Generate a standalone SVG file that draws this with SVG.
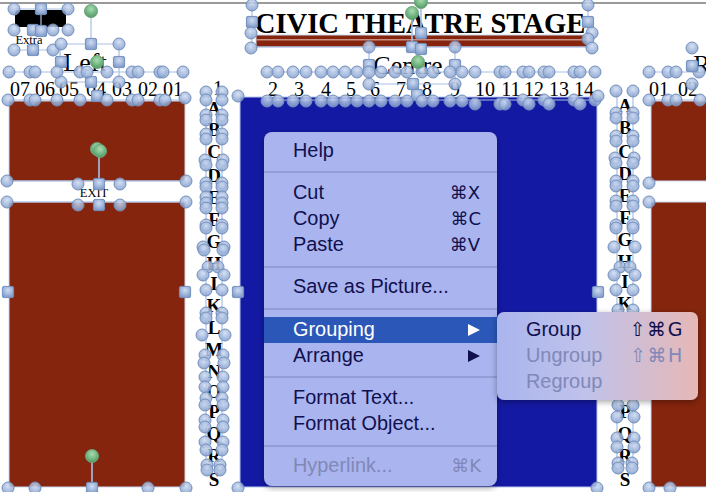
<svg xmlns="http://www.w3.org/2000/svg" width="706" height="492" viewBox="0 0 706 492">
<style>
.s{font-family:"Liberation Serif","Times New Roman",serif;fill:#000;text-anchor:middle}
.n{font-size:20px}
.l{font-size:19px;font-weight:bold}
.m{font-family:"Liberation Sans",Arial,"DejaVu Sans",sans-serif;font-size:19.9px;fill:#10104f}
.k{font-family:"DejaVu Sans","Liberation Sans",sans-serif;font-size:18px;fill:#10104f;text-anchor:end}
.z{font-size:19px;letter-spacing:1.6px}
.d{fill:#8088b8}
.w{fill:#fff}
.sep{fill:#939dd6}
.lnk{stroke:#a9c0e6;stroke-width:1.2;fill:none}
</style>
<defs>
<radialGradient id="cg" cx="50%" cy="35%" r="65%"><stop offset="0" stop-color="#cfdcf2"/><stop offset="1" stop-color="#7f9bcb"/></radialGradient>
<radialGradient id="gg" cx="50%" cy="35%" r="65%"><stop offset="0" stop-color="#a8dcb0"/><stop offset="1" stop-color="#4f9a63"/></radialGradient>
<linearGradient id="sub" x1="0" x2="1" y1="0" y2="0"><stop offset="0" stop-color="#aab5ee"/><stop offset=".45" stop-color="#c0c2ea"/><stop offset="1" stop-color="#e6b8b6"/></linearGradient>
<filter id="sh" x="-10%" y="-10%" width="120%" height="125%"><feDropShadow dx="0" dy="2" stdDeviation="3" flood-color="#000" flood-opacity=".35"/></filter>
<circle id="c" r="6" fill="url(#cg)" stroke="#7490bd" stroke-width="1" fill-opacity=".85"/>
<rect id="q" x="-5.6" y="-5.6" width="11.2" height="11.2" rx="1.6" fill="url(#cg)" stroke="#7490bd" stroke-width="1"/>
<circle id="g" r="6.6" fill="url(#gg)" stroke="#6f9f7c" stroke-width=".8"/>
</defs>

<rect width="706" height="492" fill="#fff"/>
<rect x="0" y="2" width="706" height="2" fill="#9a9a9a"/>

<g id="shapes">
<rect x="9" y="101" width="176" height="80" fill="#85250d" stroke="#c9d6ee"/>
<rect x="9" y="202" width="176" height="285" fill="#85250d" stroke="#c9d6ee"/>
<rect x="240" y="97" width="357" height="390" fill="#1419a4" stroke="#b9c8ee"/>
<rect x="651" y="101" width="56" height="80" fill="#85250d" stroke="#c9d6ee"/>
<rect x="651" y="202" width="56" height="285" fill="#85250d" stroke="#c9d6ee"/>
<rect x="256" y="35" width="331" height="12" fill="#85250d" stroke="#c9d6ee"/>
<rect x="256" y="39" width="331" height="1.5" fill="#c98f82"/>
<rect x="15" y="10" width="51" height="17" rx="4" fill="#000"/>
</g>

<g id="labels">
<text x="420" y="33" class="s" font-size="28.6" font-weight="bold">CIVIC THEATRE STAGE</text>
<text x="29" y="44" class="s" font-size="12.5">Extra</text>
<text x="94" y="197" class="s" font-size="12.5">EXIT</text>
<text x="85" y="71" class="s" font-size="26">Left</text>
<text x="408" y="74" class="s" font-size="26">Centre</text>
<text x="702" y="73" class="s" font-size="26">R</text>
<g class="s n">
<text x="20" y="96">07</text><text x="45" y="96">06</text><text x="69" y="96">05</text><text x="96" y="96">04</text><text x="122" y="96">03</text><text x="148" y="96">02</text><text x="173" y="96">01</text>
<text x="218" y="95">1</text>
<text x="273" y="96">2</text><text x="299" y="96">3</text><text x="326" y="96">4</text><text x="351" y="96">5</text><text x="375" y="96">6</text><text x="401" y="96">7</text><text x="427" y="96">8</text><text x="455" y="96">9</text><text x="485" y="96">10</text><text x="511" y="96">11</text><text x="534" y="96">12</text><text x="559" y="96">13</text><text x="584" y="96">14</text>
<text x="659" y="96">01</text><text x="688" y="96">02</text>
</g>
<g class="s l">
<text x="214" y="115">A</text><text x="214" y="136">B</text><text x="214" y="158">C</text><text x="214" y="182">D</text><text x="214" y="204">E</text><text x="214" y="226">F</text><text x="214" y="248">G</text><text x="214" y="270">H</text><text x="214" y="290">I</text><text x="214" y="312">K</text><text x="214" y="334">L</text><text x="214" y="356">M</text><text x="214" y="378">N</text><text x="214" y="398">O</text><text x="214" y="418">P</text><text x="214" y="440">Q</text><text x="214" y="462">R</text><text x="214" y="486">S</text>
<text x="625" y="112">A</text><text x="625" y="134">B</text><text x="625" y="158">C</text><text x="625" y="180">D</text><text x="625" y="202">E</text><text x="625" y="224">F</text><text x="625" y="246">G</text><text x="625" y="268">H</text><text x="625" y="288">I</text><text x="625" y="310">K</text><text x="625" y="418">P</text><text x="625" y="440">Q</text><text x="625" y="462">R</text><text x="625" y="486">S</text>
</g>
</g>

<g id="selection-lines" class="lnk">
<path d="M91 17V44M41 9V30M9 72H183M9 100H185M206 92V470M222 92V470M617 92V470M633 92V470M267 72H595M267 100H595M648 72H706M648 100H706"/>
<path d="M252 5V47M588 5V48M252 47H588M369 47V84M455 47V84M369 47H455M369 84H455M60 44H118M60 44V82M119 44V82M60 82H119M7 181H186M7 202H186M14 9H68M14 50H53"/>
<path d="M99 157V180M92 462V486M421 8V33M412 19V47" stroke-width="1.6"/>
</g>

<g id="handles">
<use href="#c" x="14" y="9"/><use href="#q" x="41" y="9"/><use href="#c" x="68" y="9"/><use href="#c" x="14" y="30"/><use href="#q" x="33" y="30"/><use href="#q" x="41" y="31"/><use href="#c" x="53" y="30"/><use href="#c" x="68" y="30"/><use href="#c" x="14" y="50"/><use href="#q" x="33" y="50"/><use href="#c" x="53" y="50"/>
<use href="#c" x="61" y="44"/><use href="#q" x="91" y="44"/><use href="#c" x="119" y="44"/><use href="#q" x="61" y="62"/><use href="#q" x="119" y="62"/><use href="#c" x="61" y="82"/><use href="#q" x="91" y="82"/><use href="#c" x="119" y="82"/>
<use href="#c" x="9" y="72"/><use href="#c" x="30" y="72"/><use href="#c" x="35" y="72"/><use href="#c" x="57" y="72"/><use href="#c" x="80" y="72"/><use href="#c" x="87" y="72"/><use href="#c" x="107" y="72"/><use href="#c" x="132" y="72"/><use href="#c" x="138" y="72"/><use href="#c" x="160" y="72"/><use href="#c" x="163" y="72"/><use href="#c" x="183" y="72"/>
<use href="#c" x="8" y="100"/><use href="#c" x="30" y="100"/><use href="#c" x="35" y="100"/><use href="#c" x="57" y="100"/><use href="#c" x="80" y="100"/><use href="#q" x="97" y="96"/><use href="#c" x="107" y="100"/><use href="#c" x="132" y="100"/><use href="#c" x="138" y="100"/><use href="#c" x="160" y="100"/><use href="#c" x="165" y="100"/><use href="#c" x="185" y="98"/>
<use href="#c" x="7" y="181"/><use href="#c" x="186" y="181"/><use href="#c" x="7" y="202"/><use href="#c" x="186" y="202"/><use href="#c" x="78" y="184"/><use href="#q" x="99" y="184"/><use href="#c" x="120" y="184"/><use href="#c" x="78" y="205"/><use href="#q" x="99" y="205"/><use href="#c" x="120" y="205"/>
<use href="#q" x="8" y="292"/><use href="#q" x="185" y="292"/><use href="#c" x="8" y="488"/><use href="#c" x="35" y="488"/><use href="#q" x="92" y="488"/><use href="#c" x="148" y="488"/><use href="#c" x="186" y="488"/>
<use href="#c" x="252" y="5"/><use href="#q" x="252" y="22"/><use href="#c" x="251" y="33"/><use href="#c" x="251" y="48"/><use href="#c" x="588" y="5"/><use href="#q" x="588" y="22"/><use href="#c" x="592" y="33"/><use href="#c" x="588" y="39"/><use href="#c" x="592" y="48"/><use href="#q" x="421" y="33"/><use href="#q" x="412" y="47"/><use href="#q" x="421" y="49"/>
<use href="#c" x="369" y="47"/><use href="#q" x="369" y="65"/><use href="#c" x="369" y="84"/><use href="#c" x="455" y="47"/><use href="#q" x="455" y="65"/><use href="#c" x="455" y="84"/><use href="#q" x="413" y="84"/><use href="#q" x="417" y="95"/>
<use href="#c" x="267" y="72"/><use href="#c" x="278" y="72"/><use href="#c" x="293" y="72"/><use href="#c" x="306" y="72"/><use href="#c" x="321" y="72"/><use href="#c" x="333" y="72"/><use href="#c" x="345" y="72"/><use href="#c" x="357" y="72"/><use href="#c" x="369" y="72"/><use href="#c" x="381" y="72"/><use href="#c" x="395" y="72"/><use href="#c" x="407" y="72"/><use href="#c" x="422" y="72"/><use href="#c" x="433" y="72"/><use href="#c" x="450" y="72"/><use href="#c" x="462" y="72"/><use href="#c" x="475" y="72"/><use href="#c" x="500" y="72"/><use href="#c" x="505" y="72"/><use href="#c" x="523" y="72"/><use href="#c" x="529" y="72"/><use href="#c" x="544" y="72"/><use href="#c" x="549" y="72"/><use href="#c" x="574" y="72"/><use href="#c" x="580" y="72"/><use href="#c" x="595" y="72"/>
<use href="#c" x="267" y="101"/><use href="#c" x="278" y="101"/><use href="#c" x="293" y="101"/><use href="#c" x="306" y="101"/><use href="#c" x="321" y="101"/><use href="#c" x="333" y="101"/><use href="#c" x="345" y="101"/><use href="#c" x="357" y="101"/><use href="#c" x="369" y="101"/><use href="#c" x="381" y="101"/><use href="#c" x="395" y="101"/><use href="#c" x="407" y="101"/><use href="#c" x="422" y="101"/><use href="#c" x="433" y="101"/><use href="#c" x="450" y="101"/><use href="#c" x="462" y="101"/><use href="#c" x="475" y="104"/><use href="#c" x="500" y="104"/><use href="#c" x="505" y="104"/><use href="#c" x="523" y="100"/><use href="#c" x="529" y="104"/><use href="#c" x="544" y="100"/><use href="#c" x="549" y="104"/><use href="#c" x="574" y="100"/><use href="#c" x="580" y="104"/><use href="#c" x="595" y="100"/><use href="#c" x="598" y="96"/>
<use href="#c" x="238" y="96"/><use href="#q" x="238" y="292"/><use href="#q" x="598" y="292"/><use href="#c" x="238" y="488"/><use href="#c" x="597" y="488"/>
<use href="#c" x="649" y="72"/><use href="#c" x="668" y="72"/><use href="#c" x="676" y="72"/><use href="#c" x="699" y="72"/><use href="#c" x="649" y="100"/><use href="#c" x="668" y="100"/><use href="#c" x="676" y="100"/><use href="#c" x="700" y="100"/><use href="#c" x="692" y="48"/><use href="#q" x="692" y="66"/><use href="#c" x="692" y="84"/><use href="#c" x="649" y="183"/><use href="#c" x="649" y="202"/><use href="#c" x="649" y="488"/><use href="#c" x="670" y="488"/>
<use href="#c" x="206" y="92"/><use href="#c" x="222" y="92"/><use href="#c" x="206" y="100"/><use href="#c" x="222" y="100"/><use href="#c" x="206" y="115"/><use href="#c" x="222" y="115"/><use href="#c" x="206" y="120"/><use href="#c" x="222" y="120"/><use href="#c" x="206" y="134"/><use href="#c" x="222" y="134"/><use href="#c" x="206" y="139"/><use href="#c" x="222" y="139"/><use href="#c" x="205" y="160"/><use href="#c" x="223" y="160"/><use href="#c" x="206" y="165"/><use href="#c" x="222" y="165"/><use href="#c" x="206" y="183"/><use href="#c" x="222" y="183"/><use href="#c" x="206" y="187"/><use href="#c" x="222" y="187"/><use href="#c" x="206" y="197"/><use href="#c" x="222" y="197"/><use href="#c" x="206" y="203"/><use href="#c" x="222" y="203"/><use href="#c" x="206" y="208"/><use href="#c" x="222" y="208"/><use href="#c" x="206" y="225"/><use href="#c" x="222" y="225"/><use href="#c" x="206" y="228"/><use href="#c" x="222" y="228"/><use href="#c" x="203" y="247"/><use href="#c" x="224" y="247"/><use href="#c" x="204" y="250"/><use href="#c" x="223" y="250"/><use href="#c" x="208" y="267"/><use href="#c" x="218" y="267"/><use href="#c" x="203" y="275"/><use href="#c" x="224" y="275"/><use href="#c" x="206" y="290"/><use href="#c" x="222" y="290"/><use href="#c" x="206" y="313"/><use href="#c" x="222" y="313"/><use href="#c" x="206" y="318"/><use href="#c" x="222" y="318"/><use href="#c" x="202" y="335"/><use href="#c" x="225" y="335"/><use href="#c" x="205" y="355"/><use href="#c" x="223" y="355"/><use href="#c" x="204" y="363"/><use href="#c" x="224" y="363"/><use href="#c" x="205" y="377"/><use href="#c" x="223" y="377"/><use href="#c" x="205" y="387"/><use href="#c" x="223" y="387"/><use href="#c" x="206" y="398"/><use href="#c" x="222" y="398"/><use href="#c" x="205" y="405"/><use href="#c" x="223" y="405"/><use href="#c" x="205" y="420"/><use href="#c" x="223" y="420"/><use href="#c" x="205" y="427"/><use href="#c" x="223" y="427"/><use href="#c" x="205" y="442"/><use href="#c" x="223" y="442"/><use href="#c" x="206" y="450"/><use href="#c" x="222" y="450"/><use href="#c" x="207" y="465"/><use href="#c" x="220" y="465"/><use href="#c" x="207" y="470"/><use href="#c" x="220" y="470"/>
<use href="#c" x="616" y="91"/><use href="#c" x="633" y="91"/><use href="#c" x="616" y="113"/><use href="#c" x="633" y="113"/><use href="#c" x="616" y="118"/><use href="#c" x="633" y="118"/><use href="#c" x="616" y="136"/><use href="#c" x="633" y="136"/><use href="#c" x="616" y="141"/><use href="#c" x="633" y="141"/><use href="#c" x="615" y="158"/><use href="#c" x="634" y="158"/><use href="#c" x="616" y="163"/><use href="#c" x="633" y="163"/><use href="#c" x="616" y="181"/><use href="#c" x="633" y="181"/><use href="#c" x="616" y="186"/><use href="#c" x="633" y="186"/><use href="#c" x="616" y="201"/><use href="#c" x="633" y="201"/><use href="#c" x="616" y="206"/><use href="#c" x="633" y="206"/><use href="#c" x="616" y="225"/><use href="#c" x="633" y="225"/><use href="#c" x="616" y="228"/><use href="#c" x="633" y="228"/><use href="#c" x="614" y="247"/><use href="#c" x="635" y="247"/><use href="#c" x="620" y="267"/><use href="#c" x="630" y="267"/><use href="#c" x="614" y="275"/><use href="#c" x="635" y="275"/><use href="#c" x="616" y="290"/><use href="#c" x="633" y="290"/><use href="#c" x="618" y="310"/><use href="#c" x="633" y="310"/><use href="#c" x="618" y="405"/><use href="#c" x="633" y="405"/><use href="#c" x="617" y="417"/><use href="#c" x="634" y="417"/><use href="#c" x="617" y="438"/><use href="#c" x="634" y="438"/><use href="#c" x="617" y="447"/><use href="#c" x="634" y="447"/><use href="#c" x="618" y="463"/><use href="#c" x="632" y="463"/><use href="#c" x="618" y="468"/><use href="#c" x="632" y="468"/>
<use href="#g" x="91" y="11"/><use href="#g" x="97" y="62"/><use href="#g" x="97" y="149"/><use href="#g" x="100" y="151"/><use href="#g" x="92" y="456"/><use href="#g" x="412" y="13"/><use href="#g" x="421" y="2"/><use href="#g" x="418" y="62"/>
</g>

<g id="context-menu">
<rect x="264" y="132" width="233" height="354" rx="8" fill="#aab4ee" filter="url(#sh)"/>
<rect class="sep" x="264" y="171" width="233" height="2"/><rect class="sep" x="264" y="266" width="233" height="2"/><rect class="sep" x="264" y="308" width="233" height="2"/><rect class="sep" x="264" y="376" width="233" height="2"/><rect class="sep" x="264" y="445" width="233" height="2"/>
<rect x="264" y="317" width="233" height="26" fill="#2b57b8"/>
<text class="m" x="293" y="157">Help</text>
<text class="m" x="293" y="199">Cut</text><text class="k" x="480" y="199">⌘X</text>
<text class="m" x="293" y="225">Copy</text><text class="k" x="481" y="225">⌘C</text>
<text class="m" x="293" y="251">Paste</text><text class="k" x="480" y="251">⌘V</text>
<text class="m" x="293" y="293">Save as Picture...</text>
<text class="m w" x="293" y="336">Grouping</text><path d="M468 324L480 330L468 336Z" fill="#fff"/>
<text class="m" x="293" y="362">Arrange</text><path d="M468 350L480 356L468 362Z" fill="#10104f"/>
<text class="m" x="293" y="404">Format Text...</text>
<text class="m" x="293" y="430">Format Object...</text>
<text class="m d" x="293" y="472">Hyperlink...</text><text class="k d" x="481" y="472">⌘K</text>
</g>

<g id="submenu">
<rect x="497" y="312" width="201" height="88" rx="7" fill="url(#sub)" filter="url(#sh)"/>
<text class="m" x="526" y="336">Group</text><text class="k z" x="684" y="336">⇧⌘G</text>
<text class="m d" x="526" y="362">Ungroup</text><text class="k d z" x="684" y="362">⇧⌘H</text>
<text class="m d" x="526" y="388">Regroup</text>
</g>
</svg>
